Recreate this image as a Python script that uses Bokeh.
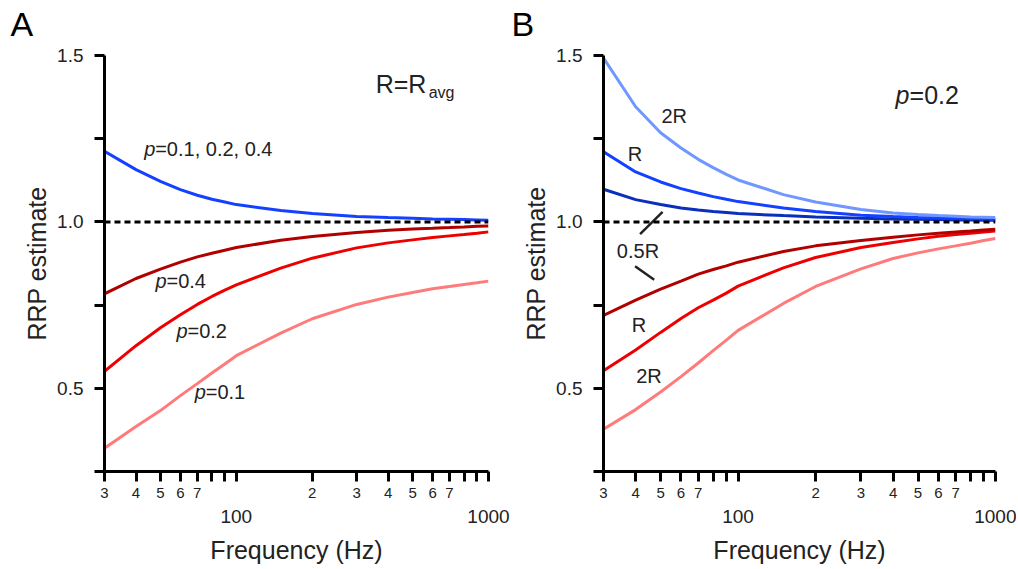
from bokeh.plotting import figure
from bokeh.layouts import row
from bokeh.models import FixedTicker, LogAxis, Label, Span, PrintfTickFormatter
from bokeh.embed import file_html
from bokeh.resources import INLINE

FONT = "Liberation Sans"
TXT = "#222222"

# ---------------- data ----------------
freq = [30, 40, 50, 60, 70, 80, 90, 100, 150, 200, 300, 400, 500, 600, 700, 800, 900, 1000]

# Panel A : R = R_avg
a_p_all = [1.212, 1.157, 1.122, 1.097, 1.080, 1.068, 1.060, 1.052, 1.034, 1.025, 1.016, 1.013, 1.011, 1.009, 1.008, 1.007, 1.006, 1.005]
a_p04 = [0.784, 0.830, 0.858, 0.879, 0.895, 0.906, 0.915, 0.923, 0.945, 0.956, 0.968, 0.975, 0.979, 0.981, 0.983, 0.985, 0.987, 0.988]
a_p02 = [0.551, 0.628, 0.682, 0.721, 0.752, 0.776, 0.795, 0.811, 0.861, 0.891, 0.922, 0.937, 0.946, 0.953, 0.958, 0.962, 0.966, 0.970]
a_p01 = [0.320, 0.385, 0.433, 0.478, 0.514, 0.546, 0.573, 0.598, 0.666, 0.709, 0.752, 0.774, 0.788, 0.799, 0.806, 0.812, 0.817, 0.822]

# Panel B : p = 0.2
b_up_2R = [1.492, 1.346, 1.268, 1.222, 1.188, 1.163, 1.143, 1.126, 1.082, 1.060, 1.037, 1.027, 1.022, 1.019, 1.017, 1.015, 1.014, 1.013]
b_up_R = [1.211, 1.150, 1.120, 1.100, 1.087, 1.076, 1.068, 1.061, 1.042, 1.031, 1.020, 1.016, 1.013, 1.012, 1.011, 1.010, 1.009, 1.008]
b_up_05R = [1.098, 1.067, 1.052, 1.042, 1.036, 1.031, 1.028, 1.025, 1.019, 1.015, 1.011, 1.009, 1.008, 1.007, 1.006, 1.006, 1.005, 1.005]
b_dn_05R = [0.719, 0.765, 0.798, 0.822, 0.843, 0.857, 0.868, 0.879, 0.911, 0.928, 0.944, 0.954, 0.961, 0.966, 0.970, 0.973, 0.976, 0.978]
b_dn_R = [0.553, 0.615, 0.668, 0.710, 0.742, 0.765, 0.786, 0.807, 0.862, 0.893, 0.923, 0.938, 0.949, 0.957, 0.962, 0.966, 0.970, 0.973]
b_dn_2R = [0.377, 0.436, 0.489, 0.535, 0.576, 0.613, 0.645, 0.674, 0.755, 0.806, 0.859, 0.890, 0.907, 0.919, 0.928, 0.936, 0.944, 0.950]

x_ticks = [30, 40, 50, 60, 70, 80, 90, 100, 200, 300, 400, 500, 600, 700, 800, 900, 1000]
x_tick_labels = ["3", "4", "5", "6", "7", "", "", "", "2", "3", "4", "5", "6", "7", "", "", ""]
x_decades = [100, 1000]
y_ticks = [0.25, 0.5, 0.75, 1.0, 1.25, 1.5]
y_blank = [0.25, 0.75, 1.25]

BLUE = "#1440ff"
BLUE_LIGHT = "#7097ff"
BLUE_DARK = "#0a2fbd"
RED_DARK = "#b00000"
RED = "#ee0000"
RED_LIGHT = "#ff7b7b"

FIG_H = 567


def make_panel(width, min_left, min_right, letter, letter_x):
    p = figure(width=width, height=FIG_H, x_axis_type="log", x_range=(30, 1000), y_range=(0.25, 1.5),
               output_backend="svg", toolbar_location=None,
               min_border_left=min_left, min_border_right=min_right,
               min_border_top=55, min_border_bottom=FIG_H - 55 - 416)
    p.outline_line_color = None
    p.xgrid.visible = False
    p.ygrid.visible = False
    p.background_fill_color = "white"
    p.border_fill_color = "white"

    # bottom axis with the digit labels (the figure's own log axis)
    ax = p.below[0]
    ax.ticker = FixedTicker(ticks=x_ticks)
    ax.formatter = PrintfTickFormatter(format="%d")
    ax.major_label_overrides = dict(zip(x_ticks, x_tick_labels))
    ax.axis_line_width = 3
    ax.major_tick_line_width = 3
    ax.major_tick_out = 10
    ax.major_tick_in = 0
    ax.minor_tick_line_color = None
    ax.major_label_standoff = 6
    ax.major_label_text_font = FONT
    ax.major_label_text_font_size = "15px"
    ax.major_label_text_color = TXT

    # second row: decade labels and the axis title
    ax2 = LogAxis(ticker=FixedTicker(ticks=x_decades), formatter=PrintfTickFormatter(format="%d"),
                  axis_line_color=None, major_tick_line_color=None, minor_tick_line_color=None,
                  major_tick_out=0, major_tick_in=0, major_label_standoff=9,
                  major_label_text_font=FONT, major_label_text_font_size="19px",
                  major_label_text_color=TXT,
                  axis_label="Frequency (Hz)", axis_label_standoff=10,
                  axis_label_text_font=FONT, axis_label_text_font_size="25px",
                  axis_label_text_font_style="normal", axis_label_text_color=TXT)
    p.add_layout(ax2, "below")

    # invisible spacer above the frame, lifts the panel letter
    spacer = LogAxis(ticker=FixedTicker(ticks=[1000]), formatter=PrintfTickFormatter(format="%d"),
                     major_label_overrides={1000: ""}, axis_line_color=None,
                     major_tick_line_color=None, minor_tick_line_color=None,
                     major_tick_out=13, major_tick_in=0, major_label_standoff=0,
                     major_label_text_font_size="1px", axis_label_standoff=0)
    p.add_layout(spacer, "above")

    # panel letter as the figure title
    p.title.text = letter
    p.title.align = "left"
    p.title.offset = letter_x - min_left
    p.title.standoff = 0
    p.title.text_font = FONT
    p.title.text_font_size = "34px"
    p.title.text_font_style = "normal"
    p.title.text_color = "black"

    ay = p.left[0]
    ay.ticker = FixedTicker(ticks=y_ticks)
    ay.formatter = PrintfTickFormatter(format="%.1f")
    ay.major_label_overrides = {v: "" for v in y_blank}
    ay.axis_line_width = 3
    ay.major_tick_line_width = 3
    ay.major_tick_out = 10
    ay.major_tick_in = 0
    ay.minor_tick_line_color = None
    ay.major_label_standoff = 11
    ay.major_label_text_font = FONT
    ay.major_label_text_font_size = "19px"
    ay.major_label_text_color = TXT
    ay.axis_label = "RRP estimate"
    ay.axis_label_standoff = 3
    ay.axis_label_text_font = FONT
    ay.axis_label_text_font_size = "25px"
    ay.axis_label_text_font_style = "normal"
    ay.axis_label_text_color = TXT

    p.add_layout(Span(location=1.0, dimension="width", line_color="black",
                      line_width=3, line_dash="6 4"))
    return p


def add_text(p, x, y, text, size, italic=False, x_offset=0):
    p.add_layout(Label(x=x, y=y, text=text, x_offset=x_offset, text_font=FONT,
                       text_font_size=f"{size}px",
                       text_font_style="italic" if italic else "normal",
                       text_color=TXT, text_align="left", text_baseline="middle"))


def add_p_text(p, x, y, rest, size):
    add_text(p, x, y, "p", size, italic=True)
    add_text(p, x, y, rest, size, x_offset=round(0.556 * size))


# ---------------- panel A ----------------
pa = make_panel(510, 104, 22, "A", 10)
for ys, col in [(a_p01, RED_LIGHT), (a_p02, RED), (a_p04, RED_DARK), (a_p_all, BLUE)]:
    pa.line(freq, ys, line_color=col, line_width=3)

add_p_text(pa, 43.1, 1.219, "=0.1, 0.2, 0.4", 20)
add_p_text(pa, 47.8, 0.823, "=0.4", 20)
add_p_text(pa, 57.9, 0.672, "=0.2", 20)
add_p_text(pa, 68.4, 0.489, "=0.1", 20)
add_text(pa, 357, 1.413, "R=R", 25)
add_text(pa, 357, 1.388, "avg", 16, x_offset=53)

# ---------------- panel B ----------------
pb = make_panel(506, 93, 21, "B", 1)
for ys, col in [(b_dn_2R, RED_LIGHT), (b_dn_R, RED), (b_dn_05R, RED_DARK),
                (b_up_05R, BLUE_DARK), (b_up_R, BLUE), (b_up_2R, BLUE_LIGHT)]:
    pb.line(freq, ys, line_color=col, line_width=3)

add_p_text(pb, 409, 1.382, "=0.2", 25)
add_text(pb, 50.4, 1.319, "2R", 20)
add_text(pb, 37.3, 1.203, "R", 20)
add_text(pb, 33.8, 0.914, "0.5R", 20)
add_text(pb, 38.6, 0.689, "R", 20)
add_text(pb, 40.2, 0.538, "2R", 20)
pb.segment(x0=[41.6, 39.8], y0=[0.963, 0.867], x1=[50.9, 47.2], y1=[1.030, 0.826],
           line_color=TXT, line_width=2.5)

layout = row(pa, pb)
open("out.html", "w").write(file_html(layout, INLINE))
